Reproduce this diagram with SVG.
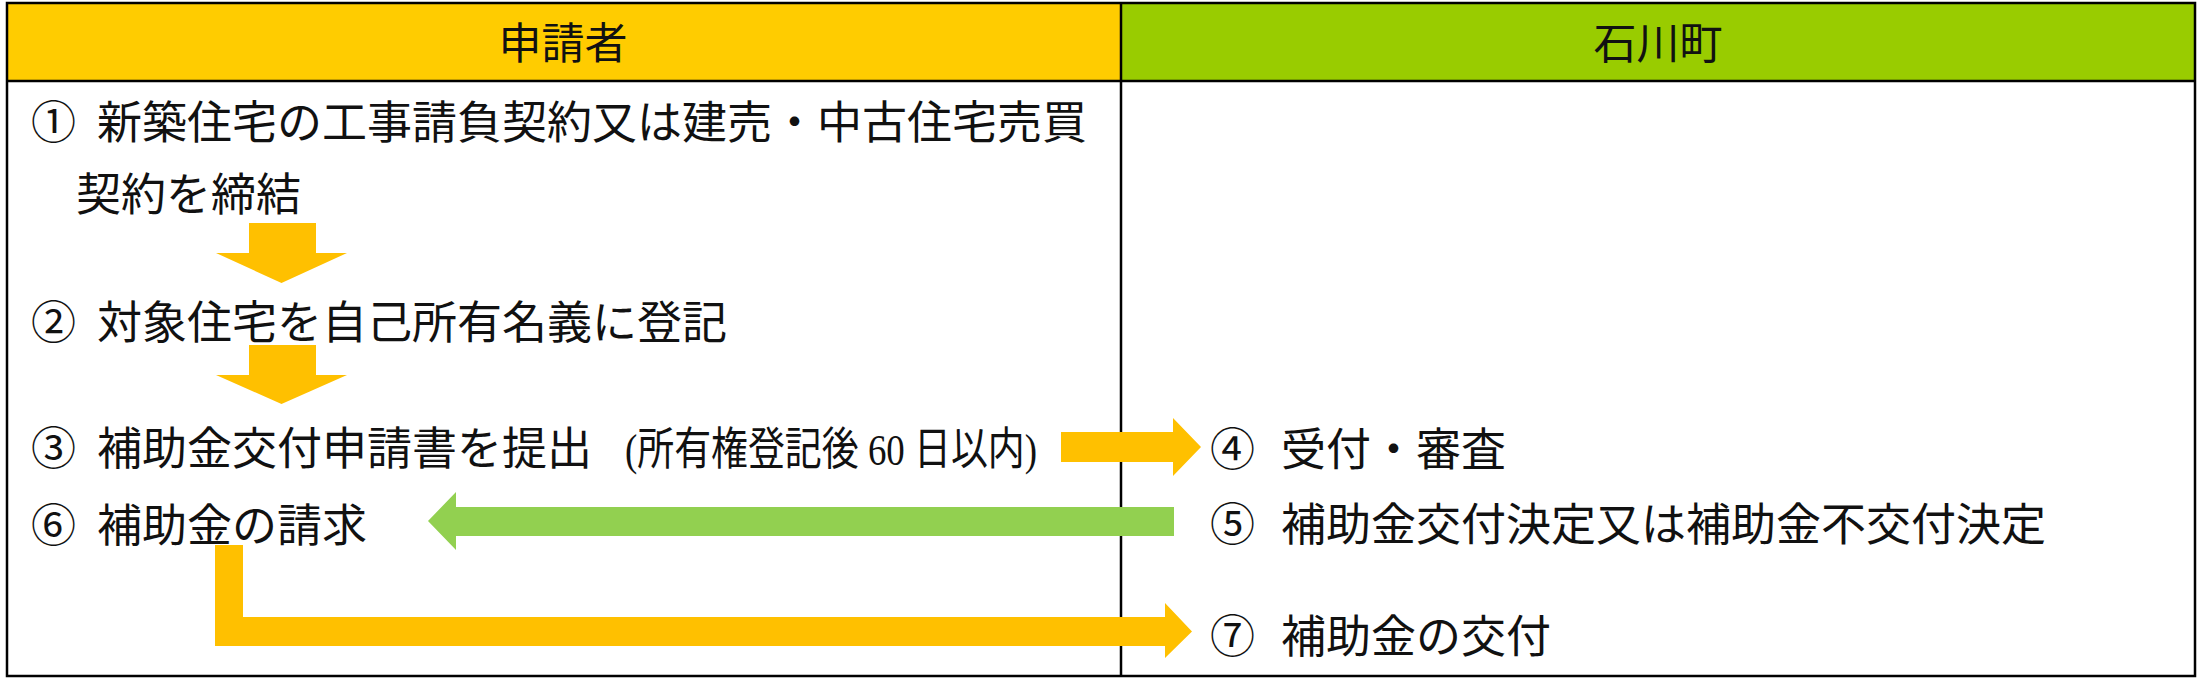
<svg xmlns="http://www.w3.org/2000/svg" width="2201" height="681" viewBox="0 0 2201 681">
<style>
.t{font-family:"Liberation Serif","Noto Sans CJK JP",serif;font-size:45px;fill:#111}
.h{font-family:"Liberation Serif","Noto Sans CJK JP",serif;font-size:43px;fill:#111;text-anchor:middle}
.ln{stroke:#000;stroke-width:2.5;fill:none}
.or{fill:#FFC000}
.gr{fill:#92D050}
</style>
<rect width="2201" height="681" fill="#fff"/>
<g id="header-applicant">
<rect x="7" y="3" width="1114" height="78" fill="#FFCC00"/>
<text class="h" x="563" y="59">申請者</text>
</g>
<g id="header-town">
<rect x="1121" y="3" width="1074" height="78" fill="#99CC00"/>
<text class="h" x="1658" y="59">石川町</text>
</g>
<g id="table-lines">
<rect class="ln" x="7" y="3" width="2188" height="673"/>
<line class="ln" x1="7" y1="81" x2="2195" y2="81"/>
<line class="ln" x1="1121" y1="3" x2="1121" y2="676" stroke-width="2"/>
</g>
<g id="step1">
<text class="t" x="31" y="139">① <tspan x="97">新築住宅の工事請負契約又は建売・中古住宅売買</tspan></text>
<text class="t" x="76" y="211">契約を締結</text>
</g>
<g id="step2">
<text class="t" x="31" y="339">② <tspan x="97">対象住宅を自己所有名義に登記</tspan></text>
</g>
<g id="step3">
<text class="t" x="31" y="465">③ <tspan x="97">補助金交付申請書を提出</tspan></text>
<text class="t" x="625" y="465" textLength="412" lengthAdjust="spacingAndGlyphs">(所有権登記後 60 日以内)</text>
</g>
<g id="step4">
<text class="t" x="1210" y="466">④ <tspan x="1281">受付・審査</tspan></text>
</g>
<g id="step5">
<text class="t" x="1210" y="541">⑤ <tspan x="1281">補助金交付決定又は補助金不交付決定</tspan></text>
</g>
<g id="step6">
<text class="t" x="31" y="542">⑥ <tspan x="97">補助金の請求</tspan></text>
</g>
<g id="step7">
<text class="t" x="1210" y="653">⑦ <tspan x="1281">補助金の交付</tspan></text>
</g>
<g id="connectors">
<polygon class="or" points="249,223 316,223 316,253 347,253 281.5,283 216,253 249,253"/>
<polygon class="or" points="249,345 316,345 316,375 347,375 281.5,404 216,375 249,375"/>
<polygon class="or" points="1061,432 1173,432 1173,418 1201,447 1173,476 1173,462 1061,462"/>
<polygon class="gr" points="1174,507 456,507 456,492 428,521 456,550 456,536 1174,536"/>
<polygon class="or" points="215,545 243,545 243,617 1165,617 1165,603 1192,631.5 1165,658 1165,646 215,646"/>
</g>
</svg>
